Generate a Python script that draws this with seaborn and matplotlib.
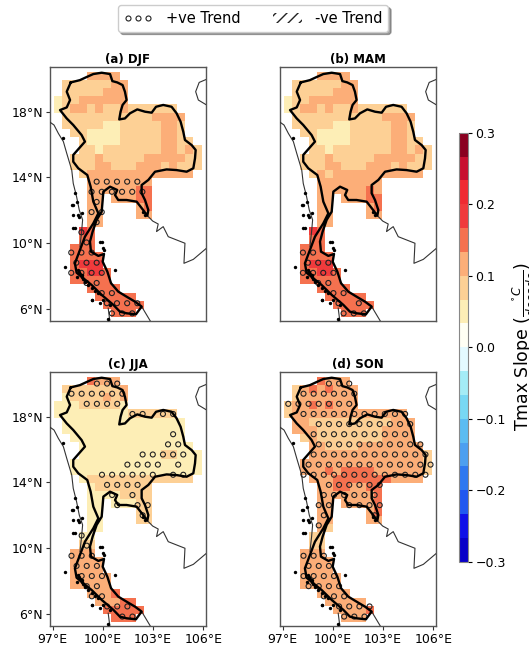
import numpy as np
import matplotlib
matplotlib.use("Agg")
import matplotlib.pyplot as plt
from matplotlib.colors import ListedColormap
from matplotlib.lines import Line2D
from matplotlib.patches import Patch
import seaborn as sns

# slope classes per grid cell, upper case = significant (stippled)
SLOPE_LEVELS = {"y": 0.05, "t": 0.083, "o": 0.117, "r": 0.15, "e": 0.183}

DJF_CELLS = [
    "....oooo..........", ".ttttttoo.........", ".tttttooo.........", "yttoooooo.........",
    "ytootottotttttt...", ".tttttttttttoooo..", ".tttttyytttttoot..", "..ttyyyytttttoot..",
    "...tyyyytttttoott.", "...ttytttttttootot", "..tttotttttooooott", "..tttootttoootottt",
    "...tooooooooooooo.", "....oOOOOOOo......", "....OOOOOORR......", "....oO.ooorr......",
    "....oo....or......", "....OO....oo......", "....oO............", "...Er.............",
    "...Rr.............", "..rrr.............", "..RRRr............", "..REeE............",
    "..RREEr...........", "..rRrRr...........", "....rRrR..........", ".....RrRrr........",
    "......RRRrR.......", ".......RRR........",
]
MAM_CELLS = [
    "....oooo..........", ".ttttttoo.........", ".tttttooo.........", "yttoooooo.........",
    "ytootottotttttt...", ".tttttttttttoooo..", ".tttttyytttttoot..", "..ttyyyytttttoot..",
    "...tyyyytttttoott.", "...ttytttttttootot", "..tttotttttooooott", "..tttootttoootottt",
    "...totooooooooooo.", "....oooooooo......", "....ooooooro......", "....oo.ooorr......",
    "....oo....or......", "....oo....oo......", "....oo............", "...er.............",
    "...rr.............", "..rrr.............", "..RRrr............", "..ReEE............",
    "..RREeR...........", "..rrRRr...........", "....rrRR..........", ".....rRRrr........",
    "......RrrRr.......", ".......RRR........",
]
JJA_CELLS = [
    "....rOOO..........", ".ttttttto.........", ".yTTTToTO.........", "yyyTtTTTy.........",
    "yyyyyyyyyTTttTT...", ".yyyyyyyyyyyyyyy..", ".yyyyyyyyyyyyyyy..", "..yyyyyyyyyyyyYy..",
    "...yyyyyyyyyyYyYy.", "...yyyyyyyYyYTTYyy", "..yyyyyyYyYYYyyYyy", "..yyyYyYYYYyYyYYyy",
    "...ytTtTTTTtTtTTt.", "....ytTTTtTt......", "....yyyYtTtT......", "....yy.YyyTT......",
    "....yy....Tt......", "....yy....tt......", "....yy............", "...Yy.............",
    "...Tt.............", "..OOO.............", "..oooo............", "..OOoO............",
    "..oOOOo...........", "..oOoOo...........", "....OOor..........", ".....oOOrr........",
    "......RRRrr.......", ".......rRR........",
]
SON_CELLS = [
    "....rOOO..........", ".tororooo.........", ".tOOOOOOO.........", "TOOROROOO.........",
    "toOOOOOOOOOOOOO...", ".ooTTTTTTTTTTOOO..", ".oooTTTTTTTToooo..", "..tOTTTTTTTTOOOO..",
    "...OOTTTTOOOOOOOO.", "...OOOOOOOOOOOOOOT", "..OOOOOOOOOOOOOOOT", "..OOORORRRROOOOOOT",
    "...ooorrrrrrroooo.", "....oORROORR......", "....OOOOOOOR......", "....OO.OOOOR......",
    "....OO....OR......", "....oo....oo......", "....Ot............", "...tt.............",
    "...tt.............", "..OOO.............", "..OOOO............", "..OOOO............",
    "..OOOOO...........", "..OOOOO...........", "....OOOO..........", ".....OOOOO........",
    "......OOOOR.......", ".......OOO........",
]
PANEL_TITLES = ["(a) DJF", "(b) MAM", "(c) JJA", "(d) SON"]

# 18 classes from -0.3 to 0.3
CLASS_COLORS = [
    "#0800c8", "#0f10e8", "#2058f0", "#2e78f0", "#4c9ff0", "#5cbcf2", "#78d8f4", "#a4ecf6", "#e4faff",
    "#fffff4", "#fdeeb6", "#fdd095", "#fcae78", "#f5714f", "#f03a3c", "#f02a32", "#c81030", "#8a0020",
]
CBAR_TICKS = [-0.3, -0.2, -0.1, 0.0, 0.1, 0.2, 0.3]

# Thailand outline, lon / lat
BORDER_LON = [98.08, 98.63, 98.99, 99.43, 99.93, 100.43, 100.57, 100.86, 101.18, 101.32, 101.42, 101.18,
              101.06, 100.98, 101.32, 101.62, 102.06, 102.52, 102.92, 103.18, 103.61, 104.11, 104.41,
              104.65, 104.81, 104.91, 105.31, 105.55, 105.51, 105.41, 105.01, 104.41, 103.81, 103.12,
              102.72, 102.32, 102.32, 102.52, 102.72, 102.66, 102.38, 102.02, 101.42, 100.92, 100.73,
              100.86, 100.43, 100.03, 99.99, 99.93, 99.63, 99.39, 99.23, 99.29, 99.73, 100.07, 99.99,
              100.27, 100.49, 100.92, 101.42, 101.92, 102.32, 101.98, 101.42, 101.02, 100.63, 99.93,
              99.33, 98.83, 98.43, 98.33, 98.63, 98.93, 99.43, 99.73, 99.43, 99.27, 99.07, 98.53, 98.23,
              98.23, 98.93, 98.73, 98.23, 97.84, 97.44, 97.84, 98.04, 97.84, 98.08]
BORDER_LAT = [19.78, 19.92, 20.09, 20.29, 20.37, 20.29, 19.86, 19.78, 19.62, 19.22, 18.71, 18.41,
              18.00, 17.53, 17.59, 17.90, 18.14, 18.00, 17.94, 18.30, 18.41, 18.30, 17.90,
              17.39, 16.78, 16.28, 15.97, 15.67, 15.16, 14.56, 14.35, 14.45, 14.49, 14.35,
              13.85, 13.54, 13.04, 12.63, 12.02, 11.68, 12.06, 12.53, 12.63, 12.63, 12.93,
              13.24, 13.44, 13.14, 12.63, 11.92, 11.42, 10.71, 10.10, 9.49, 9.23, 9.35, 8.88,
              8.27, 7.57, 7.06, 6.75, 6.45, 6.15, 5.68, 5.74, 5.84, 6.25, 6.86,
              7.46, 7.87, 8.21, 8.78, 9.59, 10.40, 11.21, 11.82, 12.53, 13.44, 14.15, 14.56, 14.96,
              15.37, 16.18, 16.58, 17.19, 17.59, 18.10, 18.26, 18.71, 19.22, 19.78]

# neighbouring coastlines
MYANMAR_LON = [96.80, 97.08, 97.34, 97.64, 97.84, 98.14, 98.23, 98.43, 98.59, 98.79, 98.73, 98.63]
MYANMAR_LAT = [17.39, 17.19, 16.68, 16.18, 15.47, 14.45, 13.64, 12.83, 12.02, 11.42, 10.71, 9.79]
CAMBODIA_LON = [102.66, 102.98, 103.31, 103.21, 103.61, 103.91, 104.41, 104.91, 104.85, 105.41, 106.20]
CAMBODIA_LAT = [11.68, 11.35, 11.17, 10.71, 11.01, 10.40, 10.20, 10.00, 8.78, 9.02, 9.70]
VIETNAM_LON = [106.20, 105.76, 105.55, 105.71, 106.20]
VIETNAM_LAT = [19.97, 19.78, 19.22, 18.71, 18.41]
MALAYSIA_E_LON = [102.32, 102.85]
MALAYSIA_E_LAT = [6.15, 5.25]
MALAYSIA_W_LON = [100.32, 100.42]
MALAYSIA_W_LAT = [6.05, 5.25]
ISLAND_LON = [98.33, 98.14, 98.43, 98.19, 98.57, 98.77, 98.33, 97.71, 99.83, 100.07, 99.93, 100.03, 99.37, 99.83,
              100.72, 97.64, 98.59, 98.73, 98.93, 98.43, 102.42, 102.52, 98.53, 98.73, 98.93, 99.33, 99.73,
              100.02, 100.42, 99.33, 98.23, 98.53, 98.23, 100.33, 98.63, 98.83, 99.13, 99.53]
ISLAND_LAT = [13.04, 12.33, 12.53, 11.72, 11.62, 11.82, 10.91, 8.58, 10.10, 9.59, 10.10, 9.69, 6.55, 6.39,
              8.38, 16.38, 8.27, 7.97, 7.73, 7.97, 11.92, 11.72, 8.38, 8.07, 7.67, 7.26, 6.96,
              6.55, 6.25, 6.55, 12.33, 11.72, 10.91, 5.39, 8.12, 7.82, 7.47, 7.11]

# grid of the slope cells
LON_LEFT, LON_STEP = 97.08, 0.49
LAT_TOP, LAT_STEP = 20.43, 0.4975


def lon_x(lon):
    return (np.asarray(lon) - LON_LEFT) / LON_STEP


def lat_y(lat):
    return (LAT_TOP - np.asarray(lat)) / LAT_STEP


def cell_values(cells):
    return np.array([[SLOPE_LEVELS.get(c.lower(), np.nan) for c in row] for row in cells])


def stipple_points(cells, lon0, lat0):
    # staggered lattice like an "o" hatch, kept only on significant cells
    dlon, dlat = 0.6076, 0.616
    xs, ys = [], []
    for k in range(-30, 30):
        lat = lat0 - k * dlat
        for j in range(-30, 30):
            lon = lon0 + j * dlon - (k % 2) * dlon / 2
            col, row = int(np.floor(lon_x(lon))), int(np.floor(lat_y(lat)))
            if 0 <= row < len(cells) and 0 <= col < 18 and cells[row][col].isupper():
                xs.append(lon_x(lon))
                ys.append(lat_y(lat))
    return xs, ys


def draw_panel(ax, cells, title, origin, cmap):
    sns.heatmap(cell_values(cells), ax=ax, cmap=cmap, vmin=-0.3, vmax=0.3, cbar=False,
                xticklabels=False, yticklabels=False)
    xs, ys = stipple_points(cells, *origin)
    sns.scatterplot(x=xs, y=ys, s=13, linewidth=0.8, edgecolor="#222222", ax=ax, legend=False, zorder=4)
    ax.collections[-1].set_facecolor("none")

    for lons, lats in [(MYANMAR_LON, MYANMAR_LAT), (CAMBODIA_LON, CAMBODIA_LAT), (VIETNAM_LON, VIETNAM_LAT),
                       (MALAYSIA_E_LON, MALAYSIA_E_LAT), (MALAYSIA_W_LON, MALAYSIA_W_LAT)]:
        ax.plot(lon_x(lons), lat_y(lats), color="#333333", lw=0.8, zorder=3)
    sns.scatterplot(x=lon_x(ISLAND_LON), y=lat_y(ISLAND_LAT), s=6, color="black", linewidth=0, ax=ax,
                    legend=False, zorder=5)
    ax.plot(lon_x(BORDER_LON), lat_y(BORDER_LAT), color="black", lw=1.7, zorder=5)

    ax.set_xlim(lon_x(96.84), lon_x(106.15))
    ax.set_ylim(lat_y(5.29), lat_y(20.70))
    for spine in ax.spines.values():
        spine.set_visible(True)
        spine.set_color("#555555")
        spine.set_linewidth(1.0)
    ax.set_title(title, fontsize=8.5, fontweight="bold", pad=3)


cmap = ListedColormap(CLASS_COLORS)

W, H = 529, 648
fig = plt.figure(figsize=(W / 100, H / 100), dpi=100)
ax_a = fig.add_axes([50 / W, 1 - 320.7 / H, 155.7 / W, 253.4 / H])
ax_b = fig.add_axes([280 / W, 1 - 320.7 / H, 155.7 / W, 253.4 / H])
ax_c = fig.add_axes([50 / W, 1 - 625.7 / H, 155.7 / W, 253.4 / H])
ax_d = fig.add_axes([280 / W, 1 - 625.7 / H, 155.7 / W, 253.4 / H])

draw_panel(ax_a, DJF_CELLS, PANEL_TITLES[0], (99.63, 13.745), cmap)
draw_panel(ax_b, MAM_CELLS, PANEL_TITLES[1], (99.73, 13.745), cmap)
draw_panel(ax_c, JJA_CELLS, PANEL_TITLES[2], (98.733, 19.398), cmap)
draw_panel(ax_d, SON_CELLS, PANEL_TITLES[3], (98.853, 19.398), cmap)

for ax in [ax_a, ax_c]:
    ax.set_yticks(lat_y([6, 10, 14, 18]))
    ax.set_yticklabels(["6°N", "10°N", "14°N", "18°N"], rotation=0, fontsize=9)
for ax in [ax_c, ax_d]:
    ax.set_xticks(lon_x([97, 100, 103, 106]))
    ax.set_xticklabels(["97°E", "100°E", "103°E", "106°E"], rotation=0, fontsize=9)
for ax in [ax_a, ax_b, ax_c, ax_d]:
    ax.tick_params(length=3, width=0.8, pad=2, color="#333333")

cax = fig.add_axes([459.3 / W, 1 - 561.7 / H, 9 / W, 429 / H])
cbar = fig.colorbar(ax_a.collections[0], cax=cax, ticks=CBAR_TICKS)
cbar.ax.tick_params(labelsize=9, length=3, width=0.8, pad=2)
cbar.outline.set_edgecolor("#888888")
cbar.set_label(r"Tmax Slope ($\frac{^{\circ}C}{decade}$)", fontsize=12.5, labelpad=3.5)

handles = [
    Line2D([], [], linestyle="none", marker="o", markersize=3.6, markerfacecolor="none",
           markeredgecolor="#222222", markeredgewidth=0.8, label="+ve Trend"),
    Patch(facecolor="white", edgecolor="#222222", lw=0, hatch="///", label="-ve Trend"),
]
fig.legend(handles=handles, loc="upper center", bbox_to_anchor=(253 / W, 1 - 5 / H), borderaxespad=0, ncol=2,
           fontsize=10.5, numpoints=3, handlelength=2.0, handletextpad=0.9, columnspacing=2.2,
           frameon=True, fancybox=True, shadow=True)

fig.savefig("out.png", dpi=100)
